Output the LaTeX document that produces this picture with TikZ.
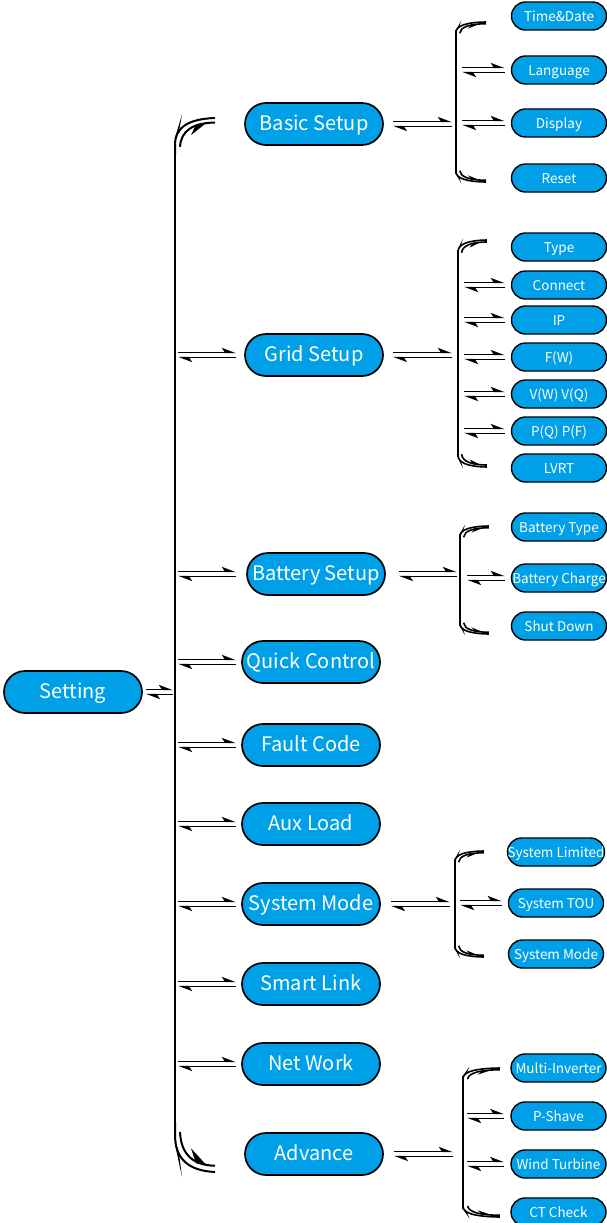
\documentclass[tikz,border=0pt]{standalone}
\usepackage{fontspec}
\setmainfont{Noto Sans CJK SC}
\usetikzlibrary{arrows.meta,calc}
\definecolor{cblue}{RGB}{0,160,233}
\newcommand\eqh[2]{%
  \draw[hp] ([yshift=2.6pt]#1) -- ([yshift=2.6pt]#2);
  \draw[hp] ([yshift=-2.6pt]#2) -- ([yshift=-2.6pt]#1);}
\newcommand\curl[5]{%
  \begin{scope}[shift={(#1,#2)}, xscale=#3, yscale=#4]
    \draw[line width=#5] (0,40) -- (0,30) .. controls (0,10) and (14,1) .. (40,0);
    \draw[line width=#5] (40,5) .. controls (18,5.5) and (6,14) .. (5,32);
    \fill (-0.5,24) -- (7,-4) -- (4,15) -- cycle;
    \fill (16,19) -- (21,7) -- (32,5) -- cycle;
  \end{scope}}
\begin{document}
\begin{tikzpicture}[x=1pt,y=-1pt,
  mainbox/.style={draw=black, line width=1.7pt, fill=cblue, text=white, rounded corners=21pt,
    minimum width=138pt, minimum height=42pt, font=\fontsize{20}{24}\selectfont, inner sep=0pt,
    text height=1.33em, text depth=0em},
  subbox/.style={draw=black, line width=1.4pt, fill=cblue, text=white, rounded corners=14pt,
    minimum width=95pt, minimum height=28pt, font=\fontsize{13.5}{16}\selectfont, inner sep=0pt,
    text height=1.15em, text depth=0em},
  hp/.style={line width=1.6pt, -{Stealth[harpoon,length=12pt,width=9pt,inset=3pt]}},
  bar/.style={line width=2pt},
]
\useasboundingbox (0,0) rectangle (607,1223);

% main nodes
\node[mainbox] (setting) at (73,692) {Setting};
\node[mainbox] (basic) at (314,124) {Basic Setup};
\node[mainbox] (grid) at (314,355) {Grid Setup};
\node[mainbox] (batt) at (316,574) {Battery Setup};
\node[mainbox] (quick) at (311,662) {Quick Control};
\node[mainbox] (fault) at (311,745) {Fault Code};
\node[mainbox] (aux) at (311,824) {Aux Load};
\node[mainbox] (sysm) at (311,904) {System Mode};
\node[mainbox] (smart) at (311,984) {Smart Link};
\node[mainbox] (net) at (311,1064) {Net Work};
\node[mainbox] (adv) at (314,1154) {Advance};

% sub nodes
\node[subbox] (td) at (559,16) {Time\&Date};
\node[subbox] (lang) at (559,70) {Language};
\node[subbox] (disp) at (559,123) {Display};
\node[subbox] (reset) at (559,178) {Reset};
\node[subbox] (type) at (559,247) {Type};
\node[subbox] (conn) at (559,285) {Connect};
\node[subbox] (ip) at (559,320) {IP};
\node[subbox] (fw) at (559,357) {F(W)};
\node[subbox] (vw) at (559,394) {V(W) V(Q)};
\node[subbox] (pq) at (559,431) {P(Q) P(F)};
\node[subbox] (lvrt) at (559,468) {LVRT};
\node[subbox] (btype) at (559,527) {Battery Type};
\node[subbox] (bchg) at (559,578) {Battery Charge};
\node[subbox] (shut) at (559,626) {Shut Down};
\node[subbox] (slim) at (556,852) {System Limited};
\node[subbox] (stou) at (556,903) {System TOU};
\node[subbox] (smode) at (556,954) {System Mode};
\node[subbox] (multi) at (558.5,1068) {Multi-Inverter};
\node[subbox] (pshave) at (558.5,1116) {P-Shave};
\node[subbox] (wind) at (558.5,1164) {Wind Turbine};
\node[subbox] (ct) at (558.5,1212) {CT Check};

% main bar
\draw[bar] (175,150) -- (175,1125);
\curl{175}{118}{1}{0.9}{2pt}
\curl{175}{1172}{1}{-1.25}{2pt}

% sub bars
\draw[bar] (456,30) -- (456,174);
\curl{456}{22}{0.75}{0.35}{1.6pt}
\curl{456}{182}{0.75}{-0.35}{1.6pt}
\draw[bar] (458,250) -- (458,457);
\curl{458}{240}{0.72}{0.4}{1.6pt}
\curl{458}{467}{0.72}{-0.4}{1.6pt}
\draw[bar] (460,534) -- (460,626);
\curl{460}{526}{0.72}{0.35}{1.6pt}
\curl{460}{634}{0.72}{-0.35}{1.6pt}
\draw[bar] (455,859) -- (455,949);
\curl{455}{851}{0.72}{0.35}{1.6pt}
\curl{455}{957}{0.72}{-0.35}{1.6pt}
\draw[bar] (463,1076) -- (463,1209);
\curl{463}{1068}{0.92}{0.35}{1.6pt}
\curl{463}{1217}{0.92}{-0.35}{1.6pt}

% harpoons: setting
\coordinate (setting-a) at ([xshift=3pt]setting.east);
\coordinate (setting-b) at (173,0 |- setting.east);
\eqh{setting-a}{setting-b}

% harpoons: main bar to items
\foreach \n in {grid,batt,quick,fault,aux,sysm,smart,net}{
  \coordinate (\n-a) at (178,0 |- \n.west);
  \coordinate (\n-b) at (236,0 |- \n.west);
  \eqh{\n-a}{\n-b}
}

% harpoons: items to sub bars
\foreach \n/\s/\e in {basic/9/452, grid/9/452, batt/13/457, sysm/10/450, adv/10/453}{
  \coordinate (\n-c) at ([xshift=\s pt]\n.east);
  \coordinate (\n-d) at (\e,0 |- \n.east);
  \eqh{\n-c}{\n-d}
}

% harpoons: sub bars to sub items
\foreach \n/\bx in {lang/462, disp/462, conn/464, ip/464, fw/464, vw/464, pq/464, bchg/467, stou/460, pshave/467, wind/467}{
  \coordinate (\n-a) at (\bx,0 |- \n.west);
  \coordinate (\n-b) at ([xshift=-6pt]\n.west);
  \eqh{\n-a}{\n-b}
}
\end{tikzpicture}
\end{document}
